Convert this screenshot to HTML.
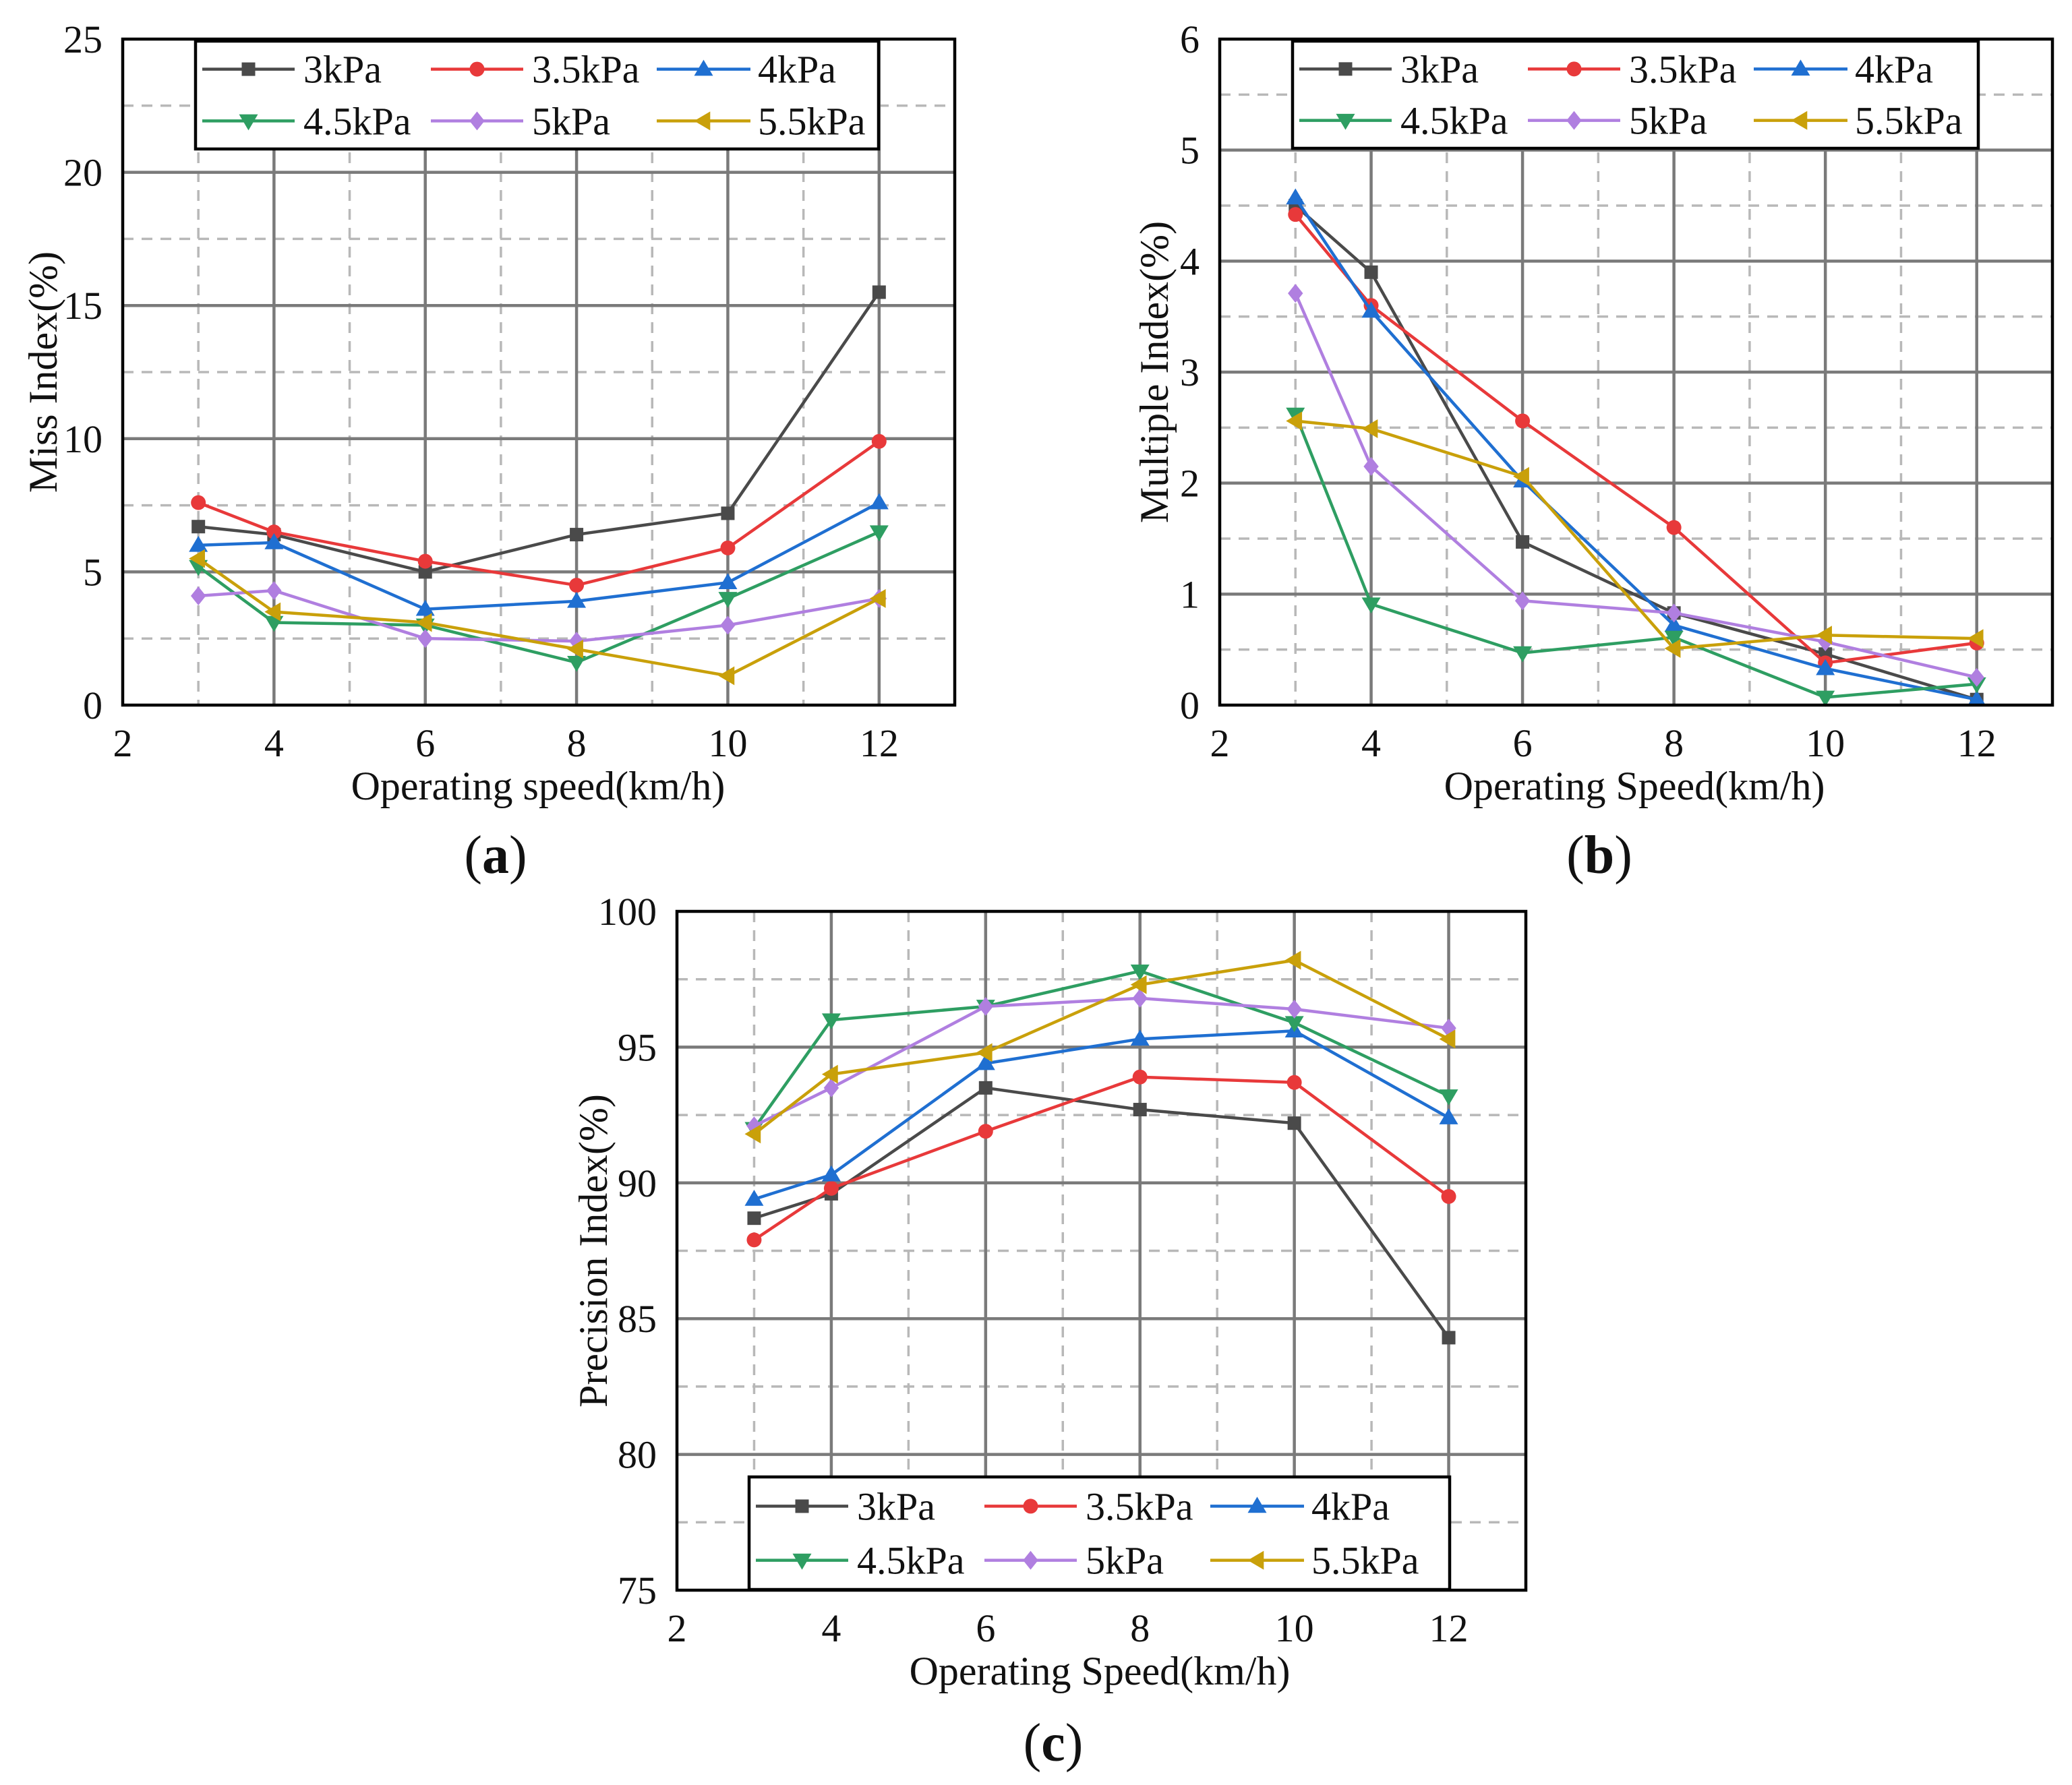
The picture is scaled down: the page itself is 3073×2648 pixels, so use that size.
<!DOCTYPE html>
<html><head><meta charset="utf-8"><style>
html,body{margin:0;padding:0;background:#fff}
svg{display:block}
text{font-family:"Liberation Serif",serif;fill:#111}
</style></head><body>
<svg id="fig" width="3073" height="2648" viewBox="0 0 3073 2648" xmlns="http://www.w3.org/2000/svg"></svg>
<script>
const xCats=[3,4,6,8,10,12];
const seriesNames=["3kPa","3.5kPa","4kPa","4.5kPa","5kPa","5.5kPa"];
const colors=["#4a4a4a","#e8393a","#1f6fd1","#2e9e62","#b07fe0","#c9a00a"];
const markers=["square","circle","up","down","diamond","left"];
const missIdx=[[6.7,6.4,5.0,6.4,7.2,15.5],[7.6,6.5,5.4,4.5,5.9,9.9],[6.0,6.1,3.6,3.9,4.6,7.6],[5.2,3.1,3.0,1.6,4.0,6.5],[4.1,4.3,2.5,2.4,3.0,4.0],[5.5,3.5,3.1,2.1,1.1,4.0]];
const multIdx=[[4.5,3.9,1.47,0.83,0.46,0.05],[4.42,3.6,2.56,1.6,0.38,0.56],[4.57,3.55,2.02,0.72,0.33,0.05],[2.62,0.91,0.47,0.61,0.07,0.19],[3.71,2.15,0.94,0.83,0.57,0.25],[2.56,2.49,2.06,0.51,0.63,0.60]];
const precIdx=[[88.7,89.6,93.5,92.7,92.2,84.3],[87.9,89.8,91.9,93.9,93.7,89.5],[89.4,90.3,94.4,95.3,95.6,92.4],[92.0,96.0,96.5,97.8,95.9,93.2],[92.1,93.5,96.5,96.8,96.4,95.7],[91.8,94.0,94.8,97.3,98.2,95.3]];
const xTicks=[2,4,6,8,10,12];
const yTicksA=[0,5,10,15,20,25];
const yTicksB=[0,1,2,3,4,5,6];
const yTicksC=[75,80,85,90,95,100];

const NS="http://www.w3.org/2000/svg";
const svg=document.getElementById('fig');
function mk(tag,attrs,parent){const e=document.createElementNS(NS,tag);for(const k in attrs)e.setAttribute(k,attrs[k]);(parent||svg).appendChild(e);return e;}
function marker(g,type,x,y,c){
  const s=10;let e;
  if(type==="square"){e=mk('rect',{x:x-s,y:y-s,width:2*s,height:2*s,fill:c},g);}
  else if(type==="circle"){e=mk('circle',{cx:x,cy:y,r:s+1,fill:c},g);}
  else{
    let p;const r=s+4;
    if(type==="up")p=[[x,y-r],[x+r,y+r*0.7],[x-r,y+r*0.7]];
    else if(type==="down")p=[[x,y+r],[x+r,y-r*0.7],[x-r,y-r*0.7]];
    else if(type==="diamond")p=[[x,y-r],[x+r*0.8,y],[x,y+r],[x-r*0.8,y]];
    else p=[[x-r,y],[x+r*0.7,y-r],[x+r*0.7,y+r]];
    e=mk('polygon',{points:p.map(q=>q.join(',')).join(' '),fill:c},g);
  }
  
  
}
function chart(o){
  const g=mk('g',{});
  
  
  const X=v=>o.x0+(v-2)/(13-2)*(o.x1-o.x0);
  const Y=v=>o.y1-(v-o.ymin)/(o.ymax-o.ymin)*(o.y1-o.y0);
  const step=o.yt[1]-o.yt[0];
  for(let v=3;v<13;v+=2){const l=mk('line',{x1:X(v),x2:X(v),y1:o.y0,y2:o.y1,stroke:'#b8b8b8','stroke-width':3.5,'stroke-dasharray':'16,12'},g);}
  for(let v=o.ymin+step/2;v<o.ymax;v+=step){const l=mk('line',{x1:o.x0,x2:o.x1,y1:Y(v),y2:Y(v),stroke:'#b8b8b8','stroke-width':3.5,'stroke-dasharray':'16,12'},g);}
  xTicks.slice(1).forEach(v=>{const l=mk('line',{x1:X(v),x2:X(v),y1:o.y0,y2:o.y1,stroke:'#7a7a7a','stroke-width':4.5},g);});
  o.yt.slice(1,-1).forEach(v=>{const l=mk('line',{x1:o.x0,x2:o.x1,y1:Y(v),y2:Y(v),stroke:'#7a7a7a','stroke-width':4.5},g);});
  o.data.forEach((arr,i)=>{
    const sg=mk('g',{},g);
    
    
    const pl=mk('polyline',{points:arr.map((v,j)=>X(xCats[j])+','+Y(v)).join(' '),fill:'none',stroke:colors[i],'stroke-width':4.5},sg);
    
    
    arr.forEach((v,j)=>marker(sg,markers[i],X(xCats[j]),Y(v),colors[i]));
  });
  const fr=mk('rect',{x:o.x0,y:o.y0,width:o.x1-o.x0,height:o.y1-o.y0,fill:'none',stroke:'#000','stroke-width':4.5},g);
  
  xTicks.forEach(v=>{const t=mk('text',{x:X(v),y:o.y1+76,'font-size':58,'text-anchor':'middle'},g);t.textContent=v;});
  o.yt.forEach(v=>{const t=mk('text',{x:o.x0-30,y:Y(v)+20,'font-size':58,'text-anchor':'end'},g);t.textContent=v;});
  const xt=mk('text',{x:o.xtx,y:o.y1+140,'font-size':60,'text-anchor':'middle'},g);xt.textContent=o.xtitle;
  const yc=(o.y0+o.y1)/2;
  const yt=mk('text',{x:o.ytx,y:yc,'font-size':60,'text-anchor':'middle',transform:`rotate(-90 ${o.ytx} ${yc})`},g);yt.textContent=o.ytitle;
  const lg=mk('g',{},g);
  const lb=mk('rect',{x:o.lx,y:o.ly,width:o.lw,height:o.lh,fill:'#fff',stroke:'#000','stroke-width':4.5},lg);
  
  const cols=[[10,147,160],[349,486,499],[684,823,834]];
  seriesNames.forEach((n,i)=>{
    const c=cols[i%3],ry=o.ly+(i<3?o.lh*0.26:o.lh*0.74);
    const eg=mk('g',{},lg);
    mk('line',{x1:o.lx+c[0],x2:o.lx+c[1],y1:ry,y2:ry,stroke:colors[i],'stroke-width':4.5},eg);
    marker(eg,markers[i],o.lx+(c[0]+c[1])/2,ry,colors[i]);
    const t=mk('text',{x:o.lx+c[2],y:ry+20,'font-size':58},eg);t.textContent=n;
  });
  const cap=mk('text',{x:o.capx,y:o.capy,'font-size':80,'text-anchor':'middle'},g);
  
  mk('tspan',{},cap).textContent='(';
  const b=mk('tspan',{'font-weight':'bold'},cap);b.textContent=o.cap;
  mk('tspan',{},cap).textContent=')';
}
chart({name:'chart-a-miss-index',x0:182,x1:1416,y0:58,y1:1046,ymin:0,ymax:25,yt:yTicksA,data:missIdx,xtitle:'Operating speed(km/h)',ytitle:'Miss Index(%)',xtx:798,ytx:84,lx:290,ly:61,lw:1013,lh:160,cap:'a',capx:735,capy:1295});
chart({name:'chart-b-multiple-index',x0:1809,x1:3044,y0:58,y1:1046,ymin:0,ymax:6,yt:yTicksB,data:multIdx,xtitle:'Operating Speed(km/h)',ytitle:'Multiple Index(%)',xtx:2424,ytx:1732,lx:1917,ly:61,lw:1017,lh:159,cap:'b',capx:2372,capy:1295});
chart({name:'chart-c-precision-index',x0:1004,x1:2263,y0:1352,y1:2359,ymin:75,ymax:100,yt:yTicksC,data:precIdx,xtitle:'Operating Speed(km/h)',ytitle:'Precision Index(%)',xtx:1631,ytx:900,lx:1111,ly:2191,lw:1039,lh:167,cap:'c',capx:1562,capy:2612});
</script>
</body></html>
